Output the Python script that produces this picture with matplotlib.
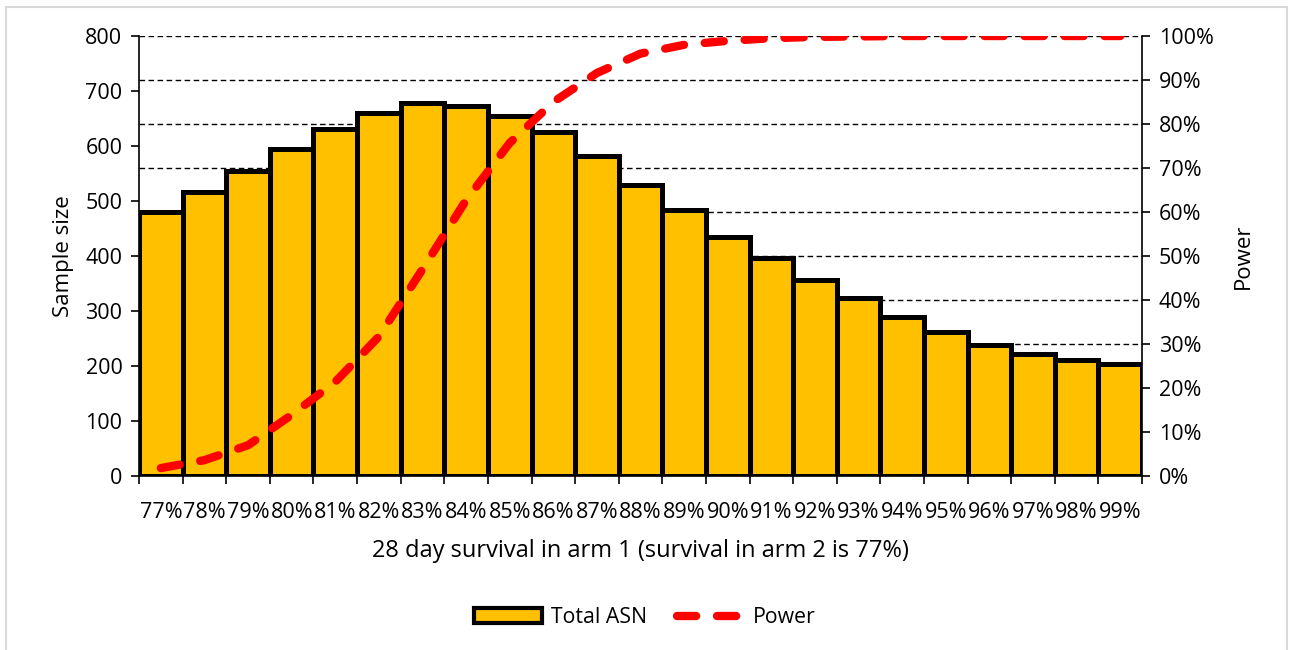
import numpy as np
import matplotlib.pyplot as plt
from matplotlib.patches import Rectangle, Patch
from matplotlib.lines import Line2D

plt.rcParams['font.family'] = ['Open Sans', 'DejaVu Sans']

# Survival in arm 1, total average sample number and power
survival = ['77%', '78%', '79%', '80%', '81%', '82%', '83%', '84%', '85%', '86%', '87%', '88%',
            '89%', '90%', '91%', '92%', '93%', '94%', '95%', '96%', '97%', '98%', '99%']
total_asn = [480, 517, 554, 594, 631, 660, 679, 673, 655, 626, 582, 529,
             483, 435, 396, 356, 323, 290, 262, 238, 221, 210, 203]
power = [1.8, 3.6, 7.0, 13.9, 21.4, 31.7, 47.0, 62.7, 75.7, 85.0, 91.6, 96.0,
         98.0, 98.9, 99.5, 99.8, 99.9, 100, 100, 100, 100, 100, 100]

x = np.arange(len(survival))

fig = plt.figure(figsize=(12.9, 6.5), dpi=100)
ax1 = fig.add_axes([0.1078, 0.2677, 0.7775, 0.6769])
ax2 = ax1.twinx()

# light grey chart border
fig.patches.append(Rectangle((6 / 1290, -0.05), 1281 / 1290, 1.05 - 7 / 650,
                             transform=fig.transFigure, fill=False,
                             edgecolor='#D9D9D9', linewidth=1.5))

# dashed gridlines every 10% of power (80 on the sample size scale)
for lvl in np.arange(80, 801, 80):
    ax1.axhline(lvl, color='black', linestyle=(0, (4, 2.5)), linewidth=1.0, zorder=0)

ax1.bar(x, total_asn, width=1.0, color='#FFC000', edgecolor='black',
        linewidth=3.6, zorder=2, label='Total ASN')

ax2.plot(x, power, color='#FF0000', linewidth=6, dashes=(2.3, 2.5),
         dash_capstyle='round', solid_capstyle='round', zorder=3, label='Power')

ax1.set_xlim(-0.5, len(x) - 0.5)
ax1.set_ylim(0, 800)
ax2.set_ylim(0, 100)

ax1.set_yticks(np.arange(0, 801, 100))
ax2.set_yticks(np.arange(0, 101, 10))
ax2.set_yticklabels([f'{v}%' for v in range(0, 101, 10)])

# tick marks between categories, labels at the bar centres
ax1.set_xticks(np.arange(-0.5, len(x), 1.0))
ax1.set_xticklabels([])
ax1.set_xticks(x, minor=True)
ax1.set_xticklabels(survival, minor=True)
ax1.tick_params(axis='x', which='major', length=6, width=1.2, direction='out')
ax1.tick_params(axis='x', which='minor', length=0, pad=19, labelsize=15.5)
ax1.tick_params(axis='y', length=6, width=1.2, labelsize=15.5, pad=6)
ax2.tick_params(axis='y', length=6, width=1.2, labelsize=15.5, pad=6)

for ax in (ax1, ax2):
    ax.spines['top'].set_visible(False)
    for s in ('left', 'right', 'bottom'):
        ax.spines[s].set_linewidth(1.2)
ax1.spines['right'].set_visible(False)
ax2.spines['left'].set_visible(False)
ax2.spines['bottom'].set_visible(False)

ax1.set_ylabel('Sample size', fontsize=16, labelpad=8)
ax2.set_ylabel('Power', fontsize=16, labelpad=14)
ax1.set_xlabel('28 day survival in arm 1 (survival in arm 2 is 77%)', fontsize=17, labelpad=11)

handles = [Patch(facecolor='#FFC000', edgecolor='black', linewidth=3),
           Line2D([], [], color='#FF0000', linewidth=6, dashes=(2.3, 2.5),
                  dash_capstyle='round')]
fig.legend(handles, ['Total ASN', 'Power'], loc='center', bbox_to_anchor=(0.5, 0.05),
           ncol=2, frameon=False, fontsize=15.3, handlelength=3.2, handleheight=0.7,
           columnspacing=1.4, handletextpad=0.4)

fig.savefig('out.png', dpi=100)
